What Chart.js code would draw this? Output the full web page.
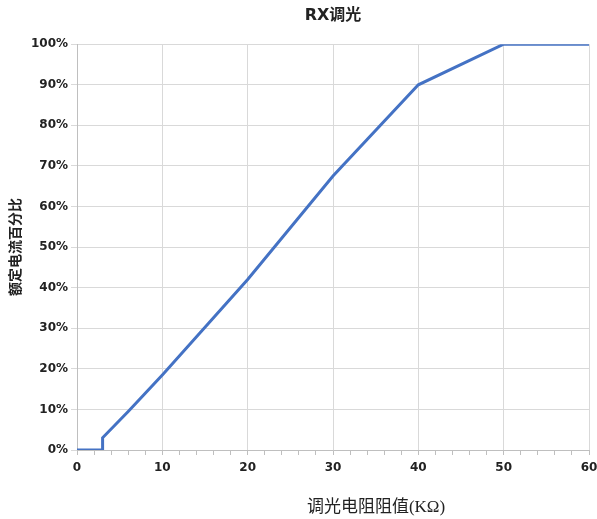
<!DOCTYPE html>
<html>
<head>
<meta charset="utf-8">
<script src="https://cdn.jsdelivr.net/npm/chart.js@4/dist/chart.umd.min.js"></script>
<style>
  html, body { margin: 0; padding: 0; background: #fff; }
  #wrap { width: 597px; height: 519px; }
</style>
</head>
<body>
<div id="wrap"><canvas id="rxChart" width="597" height="519"></canvas></div>
<script>
// dimming resistance (KΩ) vs. percent of rated current
const resistance = [0, 3, 3, 6, 8, 10, 20, 30, 40, 50, 60];
const currentPct = [0, 0, 3, 9.5, 14, 18.5, 42, 67.5, 90, 100, 100];

const xTicks = [0, 10, 20, 30, 40, 50, 60];
const yTicks = [0, 10, 20, 30, 40, 50, 60, 70, 80, 90, 100];

const chartTitle = "RX调光";
const xTitle = "调光电阻阻值(KΩ)";
const yTitle = "额定电流百分比";

const points = resistance.map((r, i) => ({ x: r, y: currentPct[i] }));

// x title sits off-centre in the original, so draw it by hand
const xTitlePlugin = {
  id: "xTitle",
  afterDraw(chart) {
    const ctx = chart.ctx;
    ctx.save();
    ctx.font = "17px 'Liberation Serif', 'Noto Sans CJK SC', serif";
    ctx.fillStyle = "#222";
    ctx.textAlign = "center";
    ctx.textBaseline = "middle";
    ctx.fillText(xTitle, 376, 508);
    ctx.restore();
  },
};

const ctx = document.getElementById("rxChart").getContext("2d");
new Chart(ctx, {
  type: "line",
  data: {
    datasets: [
      {
        data: points,
        borderColor: "#4472C4",
        borderWidth: 3,
        pointRadius: 0,
        tension: 0,
        fill: false,
      },
    ],
  },
  options: {
    responsive: false,
    animation: false,
    layout: { padding: { left: 0, right: 8, top: 0, bottom: 0 } },
    plugins: {
      legend: { display: false },
      tooltip: { enabled: false },
      title: {
        display: true,
        text: chartTitle,
        fullSize: false,
        color: "#222",
        font: { family: "'DejaVu Sans', 'Noto Sans CJK SC'", size: 16, weight: "bold", lineHeight: 1.2 },
        padding: { top: 6, bottom: 19 },
      },
    },
    scales: {
      x: {
        type: "linear",
        min: 0,
        max: 60,
        afterBuildTicks(scale) {
          // minor tick every 2, labelled every 10
          const t = [];
          for (let v = 0; v <= 60; v += 2) t.push({ value: v });
          scale.ticks = t;
        },
        afterFit(scale) {
          scale.height = 69;
          scale.paddingLeft = 0;
          scale.paddingRight = 0;
        },
        border: { color: "#bfbfbf" },
        grid: {
          color: (c) => (c.tick && c.tick.value % 10 === 0 ? "#d9d9d9" : "rgba(0,0,0,0)"),
          tickColor: "#bfbfbf",
          tickLength: 5,
        },
        ticks: {
          autoSkip: false,
          maxRotation: 0,
          padding: 6,
          color: "#222",
          font: { family: "'DejaVu Sans'", size: 12, weight: "bold" },
          callback: (v) => (xTicks.includes(v) ? String(v) : ""),
        },
      },
      y: {
        min: 0,
        max: 100,
        afterBuildTicks(scale) {
          scale.ticks = yTicks.map((v) => ({ value: v }));
        },
        afterFit(scale) { scale.width = 77; },
        border: { color: "#bfbfbf" },
        grid: { color: "#d9d9d9", tickColor: "#d9d9d9", tickLength: 6 },
        ticks: {
          padding: 3,
          color: "#222",
          font: { family: "'DejaVu Sans'", size: 12, weight: "bold" },
          callback: (v) => v + "%",
        },
        title: {
          display: true,
          text: yTitle,
          color: "#222",
          font: { family: "'Noto Sans CJK SC'", size: 14, weight: "bold", lineHeight: 1.2 },
          padding: { top: 6, bottom: 0 },
        },
      },
    },
  },
  plugins: [xTitlePlugin],
});
</script>
</body>
</html>
